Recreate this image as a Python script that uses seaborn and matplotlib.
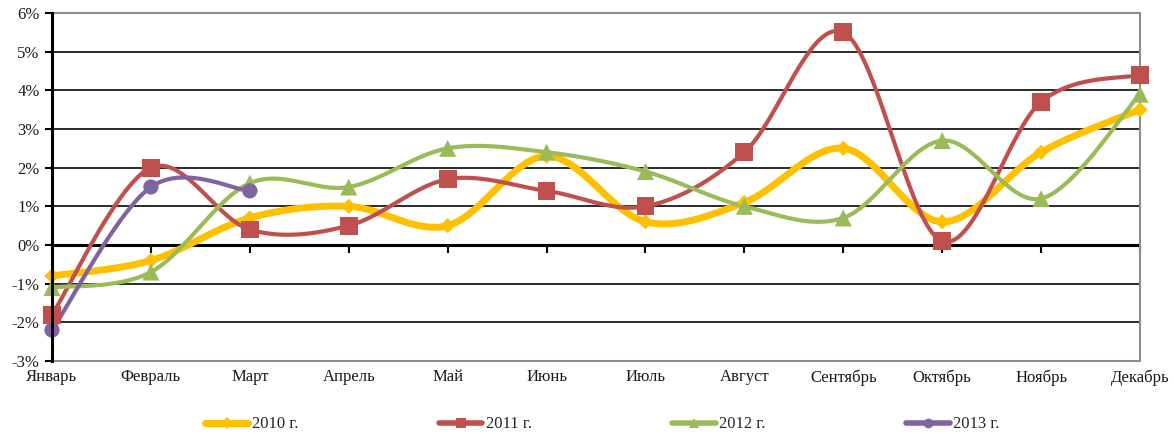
import numpy as np
import pandas as pd
import seaborn as sns
import matplotlib
matplotlib.use("Agg")
import matplotlib.pyplot as plt
from matplotlib.lines import Line2D
from matplotlib.ticker import FuncFormatter

months = ["Январь", "Февраль", "Март", "Апрель", "Май", "Июнь",
          "Июль", "Август", "Сентябрь", "Октябрь", "Ноябрь", "Декабрь"]
series_names = ["2010 г.", "2011 г.", "2012 г.", "2013 г."]
y2010 = [-0.8, -0.4, 0.7, 1.0, 0.5, 2.3, 0.6, 1.1, 2.5, 0.6, 2.4, 3.5]
y2011 = [-1.8, 2.0, 0.4, 0.5, 1.7, 1.4, 1.0, 2.4, 5.5, 0.1, 3.7, 4.4]
y2012 = [-1.1, -0.7, 1.6, 1.5, 2.5, 2.4, 1.9, 1.0, 0.7, 2.7, 1.2, 3.9]
y2013 = [-2.2, 1.5, 1.4]
y_ticks = [-3, -2, -1, 0, 1, 2, 3, 4, 5, 6]

colors = ["#FFC000", "#C0504D", "#9BBB59", "#8064A2"]
markers = ["D", "s", "^", "o"]
msizes = [60, 165, 150, 120]
lwidths = [5.0, 3.0, 3.0, 3.0]


def smooth(values, steps=40):
    """Catmull-Rom curve through the points (end points repeated)."""
    v = np.asarray(values, dtype=float)
    n = len(v)
    xs, ys = [], []
    for i in range(n - 1):
        p0 = v[i - 1] if i > 0 else v[i]
        p1, p2 = v[i], v[i + 1]
        p3 = v[i + 2] if i + 2 < n else v[i + 1]
        x0 = i - 1 if i > 0 else i
        x3 = i + 2 if i + 2 < n else i + 1
        # Bezier control points
        c1y = p1 + (p2 - p0) / 6.0
        c2y = p2 - (p3 - p1) / 6.0
        c1x = i + ((i + 1) - x0) / 6.0
        c2x = (i + 1) - (x3 - i) / 6.0
        t = np.linspace(0, 1, steps, endpoint=(i == n - 2))
        b0 = (1 - t) ** 3
        b1 = 3 * (1 - t) ** 2 * t
        b2 = 3 * (1 - t) * t ** 2
        b3 = t ** 3
        xs.append(b0 * i + b1 * c1x + b2 * c2x + b3 * (i + 1))
        ys.append(b0 * p1 + b1 * c1y + b2 * c2y + b3 * p2)
    return np.concatenate(xs), np.concatenate(ys)


sns.set_style("white")
plt.rcParams["font.family"] = ["Liberation Serif", "DejaVu Serif"]

fig = plt.figure(figsize=(11.74, 4.34), dpi=100)
ax = fig.add_axes([52 / 1174, 73 / 434, (1140 - 52) / 1174, (361 - 13) / 434])

all_series = [y2010, y2011, y2012, y2013]
for name, vals, c, m, s, lw in zip(series_names, all_series, colors, markers, msizes, lwidths):
    sx, sy = smooth(vals)
    curve = pd.DataFrame({"x": sx, "y": sy})
    sns.lineplot(data=curve, x="x", y="y", color=c, linewidth=lw, ax=ax,
                 sort=False, estimator=None, solid_capstyle="round", zorder=3)
    pts = pd.DataFrame({"x": np.arange(len(vals)), "y": vals})
    sns.scatterplot(data=pts, x="x", y="y", color=c, marker=m, s=s,
                    edgecolor="none", linewidth=0, ax=ax, zorder=4, clip_on=False)

ax.set_xlim(0, 11)
ax.set_ylim(-3, 6)
ax.set_xlabel("")
ax.set_ylabel("")

# horizontal grid
for yv in y_ticks:
    if yv in (-3, 6):
        continue
    ax.axhline(yv, color="#1a1a1a" if yv != 0 else "black",
               linewidth=1.3 if yv != 0 else 2.2, zorder=1)

ax.set_yticks(y_ticks)
ax.yaxis.set_major_formatter(FuncFormatter(lambda v, p: f"{int(v)}%"))
ax.set_xticks(range(12))
ax.set_xticklabels(months)
ax.tick_params(axis="x", length=0, pad=6, labelsize=12, colors="#1a1a1a")
ax.tick_params(axis="y", direction="out", length=5, width=1.5, color="black",
               pad=4, labelsize=12, labelcolor="#1a1a1a", left=True)

for side in ["top", "right", "bottom"]:
    ax.spines[side].set_color("#8c8c8c")
    ax.spines[side].set_linewidth(1.5)
ax.spines["left"].set_color("black")
ax.spines["left"].set_linewidth(2.2)
ax.spines["left"].set_zorder(5)

# tick marks on the zero line
zero_axis = ax.secondary_xaxis(1 / 3)
zero_axis.set_xticks(range(12))
zero_axis.set_xticklabels([""] * 12)
zero_axis.tick_params(direction="out", length=6, width=1.5, color="black")
zero_axis.spines["bottom"].set_visible(False)
zero_axis.spines["top"].set_visible(False)

handles = [Line2D([0], [0], color=c, linewidth=5 if i == 0 else 4, marker=m,
                  markersize=7 if m != "D" else 6, markeredgewidth=0)
           for i, (c, m) in enumerate(zip(colors, markers))]
fig.legend(handles, series_names, loc="center", bbox_to_anchor=(0.513, 0.022),
           ncol=4, frameon=False, fontsize=12, handlelength=2.6,
           handletextpad=0.2, columnspacing=8.45)

fig.savefig("out.png", dpi=100)
